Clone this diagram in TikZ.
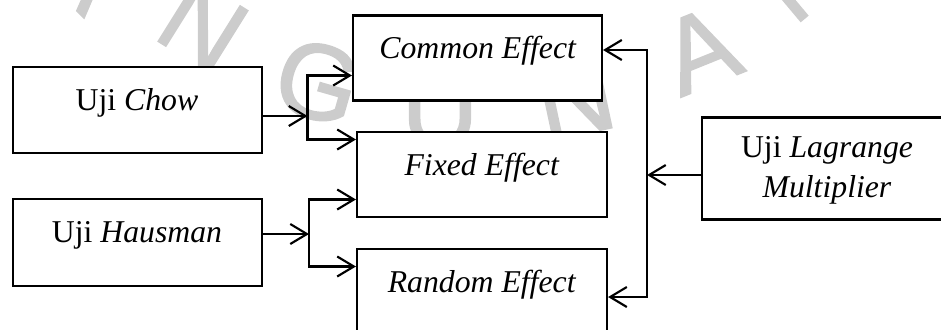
\documentclass[tikz,border=0pt]{standalone}
\usepackage{fontspec}
\setmainfont{Liberation Serif}
\newfontfamily\wmfont[FakeBold=1.5]{Liberation Sans}
\usetikzlibrary{arrows.meta}
\definecolor{wm}{RGB}{204,204,204}
\begin{document}
\begin{tikzpicture}[x=0.75pt,y=-0.75pt,
  box/.style={draw, line width=1.6pt, fill=white, inner sep=0pt},
  lbl/.style={anchor=base, inner sep=0pt, font=\fontsize{23.8}{30}\selectfont},
  arr/.style={line width=1.6pt, -{Straight Barb[length=12.5pt,width=15pt]}},
  wmk/.style={text=wm, inner sep=0pt, font=\wmfont\fontsize{80}{80}\selectfont}]
\useasboundingbox (0,0) rectangle (941,329);
\clip (0,0) rectangle (941,329);
% watermark
\node[wmk, rotate=-45] (w1) at (85,-33) {A};
\node[wmk, rotate=-32] (w2) at (203,26) {N};
\node[wmk, rotate=-16] (w3) at (318,82) {G};
\node[wmk, rotate=0] (w4) at (440,110) {U};
\node[wmk, rotate=12] (w5) at (575,98) {N};
\node[wmk, rotate=22] (w6) at (700,50) {A};
\node[wmk, rotate=40] (w7) at (800,-26) {N};
% boxes
\node[box, minimum width=186.75pt, minimum height=64.5pt] (chow) at (137.5,110) {};
\node[box, minimum width=186.75pt, minimum height=65.25pt] (haus) at (137.5,242.5) {};
\node[box, minimum width=186.75pt, minimum height=63.75pt] (common) at (477.5,58) {};
\node[box, minimum width=187.5pt, minimum height=63.75pt] (fixed) at (482,174.5) {};
\node[box, minimum width=187.5pt, minimum height=63.75pt] (random) at (482,291.5) {};
\node[box, minimum width=187.5pt, minimum height=76.5pt] (lagr) at (827,168.5) {};
% texts
\node[lbl] (tcommon) at (478,58) {\textit{Common Effect}};
\node[lbl] (tfixed) at (482,175) {\textit{Fixed Effect}};
\node[lbl] (trandom) at (482,292) {\textit{Random Effect}};
\node[lbl] (tchow) at (137,110) {Uji \textit{Chow}};
\node[lbl] (thaus) at (137,242) {Uji \textit{Hausman}};
\node[lbl] (tlag1) at (827,157) {Uji \textit{Lagrange}};
\node[lbl] (tlag2) at (827,197) {\textit{Multiplier}};
% junctions
\coordinate (jc) at (307.5,116);
\coordinate (jct) at (307.5,75.5);
\coordinate (jcb) at (307.5,139.5);
\coordinate (jh) at (309,234);
\coordinate (jht) at (309,199.5);
\coordinate (jhb) at (309,266.5);
\coordinate (jl) at (647,175);
\coordinate (jlt) at (647,50);
\coordinate (jlb) at (647,297);
% connectors
\draw[arr] (chow.east |- jc) -- (jc);
\draw[arr] (jcb) -- (jct) -- (jct -| common.west);
\draw[arr] (jct) -- (jcb) -- (jcb -| fixed.west);
\draw[arr] (haus.east |- jh) -- (jh);
\draw[arr] (jhb) -- (jht) -- (jht -| fixed.west);
\draw[arr] (jht) -- (jhb) -- (jhb -| random.west);
\draw[arr] (lagr.west |- jl) -- (jl);
\draw[arr] (jlb) -- (jlt) -- (jlt -| common.east);
\draw[arr] (jlt) -- (jlb) -- (jlb -| random.east);
\end{tikzpicture}
\end{document}
